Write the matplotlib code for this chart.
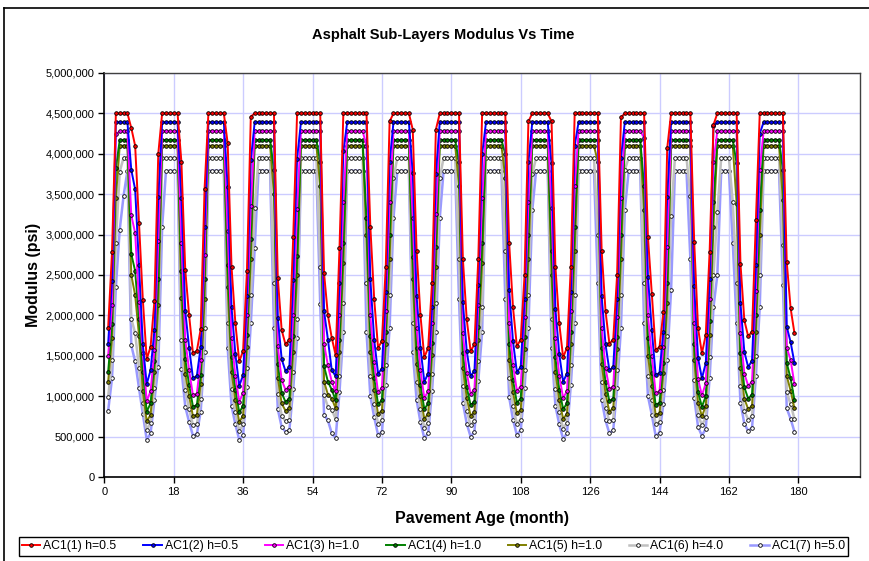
import matplotlib
matplotlib.use("Agg")
import matplotlib.pyplot as plt
from matplotlib.ticker import FuncFormatter, MultipleLocator
from matplotlib.lines import Line2D
import numpy as np

plt.rcParams['font.family'] = ['Liberation Sans', 'DejaVu Sans']

# Pavement age in months
months = list(range(1, 180))

# Modulus of each asphalt sub-layer, in thousands of psi (one row per year)
ac1_1 = [
    1850, 2780, 4500, 4500, 4500, 4500, 4320, 4100, 3140, 2190, 1460, 1610,
    2180, 4000, 4500, 4500, 4500, 4500, 4500, 3900, 2560, 2000, 1530, 1560,
    1830, 3560, 4500, 4500, 4500, 4500, 4500, 4130, 2600, 1900, 1430, 1560,
    2550, 4460, 4500, 4500, 4500, 4500, 4500, 4500, 2460, 1820, 1640, 1700,
    2970, 4500, 4500, 4500, 4500, 4500, 4500, 4500, 2520, 2000, 1720, 1510,
    2830, 4500, 4500, 4500, 4500, 4500, 4500, 4500, 3100, 2200, 1600, 1680,
    2600, 4400, 4500, 4500, 4500, 4500, 4500, 4300, 2800, 2000, 1480, 1600,
    2400, 4300, 4500, 4500, 4500, 4500, 4500, 4500, 2700, 1950, 1560, 1640,
    2700, 4500, 4500, 4500, 4500, 4500, 4500, 4500, 2900, 2100, 1620, 1700,
    2500, 4400, 4500, 4500, 4500, 4500, 4500, 4400, 2600, 1900, 1480, 1600,
    2600, 4500, 4500, 4500, 4500, 4500, 4500, 4500, 2800, 2050, 1650, 1700,
    2500, 4450, 4500, 4500, 4500, 4500, 4500, 4500, 2970, 2270, 1570, 1610,
    2040, 4070, 4500, 4500, 4500, 4500, 4500, 4500, 2910, 1840, 1530, 1760,
    2790, 4360, 4500, 4500, 4500, 4500, 4500, 4500, 2640, 1940, 1740, 1800,
    3180, 4500, 4500, 4500, 4500, 4500, 4500, 4500, 2660, 2090, 1780,
]
ac1_2 = [
    1650, 2430, 4390, 4390, 4390, 4390, 3800, 3560, 2620, 1640, 1150, 1320,
    1820, 3460, 4390, 4390, 4390, 4390, 4390, 3450, 2050, 1600, 1220, 1250,
    1610, 3100, 4390, 4390, 4390, 4390, 4390, 3590, 2100, 1520, 1130, 1260,
    2240, 3920, 4390, 4390, 4390, 4390, 4390, 4390, 1970, 1460, 1310, 1360,
    2440, 3940, 4390, 4390, 4390, 4390, 4390, 4390, 2050, 1700, 1320, 1250,
    2400, 4030, 4390, 4390, 4390, 4390, 4390, 4390, 2450, 1700, 1280, 1340,
    2290, 3900, 4390, 4390, 4390, 4390, 4390, 3760, 2240, 1600, 1180, 1280,
    2110, 3750, 4390, 4390, 4390, 4390, 4390, 4390, 2160, 1560, 1250, 1310,
    2380, 4000, 4390, 4390, 4390, 4390, 4390, 4390, 2320, 1680, 1300, 1360,
    2200, 3900, 4390, 4390, 4390, 4390, 4390, 3880, 2080, 1520, 1180, 1280,
    2290, 4100, 4390, 4390, 4390, 4390, 4390, 4390, 2240, 1640, 1320, 1360,
    2200, 3950, 4390, 4390, 4390, 4390, 4390, 4390, 2480, 1820, 1260, 1290,
    1800, 3470, 4390, 4390, 4390, 4390, 4390, 4390, 2360, 1470, 1220, 1410,
    2450, 4340, 4390, 4390, 4390, 4390, 4390, 4390, 2150, 1550, 1360, 1440,
    2620, 4250, 4390, 4390, 4390, 4390, 4390, 4390, 1860, 1670, 1410,
]
ac1_3 = [
    1500, 2130, 4240, 4280, 4280, 4280, 3240, 3020, 2170, 1530, 940, 1060,
    1570, 2920, 4280, 4280, 4280, 4280, 4280, 2900, 1700, 1320, 1010, 1030,
    1450, 2750, 4280, 4280, 4280, 4280, 4280, 3040, 1720, 1250, 930, 1040,
    2010, 3350, 4280, 4280, 4280, 4280, 4280, 4280, 1620, 1200, 1080, 1120,
    2000, 3320, 4280, 4280, 4280, 4280, 4280, 4280, 1650, 1380, 1180, 1060,
    2000, 3400, 4280, 4280, 4280, 4280, 4280, 4100, 2000, 1420, 1050, 1100,
    2050, 3400, 4280, 4280, 4280, 4280, 4280, 3200, 1850, 1320, 980, 1060,
    1900, 3250, 4280, 4280, 4280, 4280, 4280, 4280, 1780, 1290, 1030, 1080,
    2130, 3450, 4280, 4280, 4280, 4280, 4280, 4280, 1910, 1390, 1070, 1120,
    1980, 3400, 4280, 4280, 4280, 4280, 4280, 3330, 1720, 1250, 980, 1060,
    2050, 3600, 4280, 4280, 4280, 4280, 4280, 4280, 1850, 1350, 1090, 1120,
    1980, 3450, 4280, 4280, 4280, 4280, 4280, 4200, 2000, 1500, 1040, 1060,
    1610, 2850, 4280, 4280, 4280, 4280, 4280, 4280, 1900, 1210, 1010, 1160,
    2200, 3900, 4280, 4280, 4280, 4280, 4280, 4280, 1780, 1280, 1130, 1180,
    2300, 3800, 4280, 4280, 4280, 4280, 4280, 4280, 1600, 1450, 1150,
]
ac1_4 = [
    1300, 1890, 3820, 4170, 4170, 4170, 2760, 2550, 1950, 1300, 810, 910,
    1430, 2450, 4170, 4170, 4170, 4170, 4170, 2550, 1460, 1140, 870, 890,
    1260, 2450, 4170, 4170, 4170, 4170, 4170, 2620, 1480, 1080, 800, 880,
    1760, 2950, 4170, 4170, 4170, 4170, 4170, 3800, 1400, 1040, 930, 970,
    1750, 2730, 4170, 4170, 4170, 4170, 4170, 3900, 1370, 1180, 1080, 950,
    1700, 2900, 4170, 4170, 4170, 4170, 4170, 3200, 1750, 1230, 900, 950,
    1790, 3000, 4170, 4170, 4170, 4170, 4170, 2720, 1600, 1140, 840, 910,
    1660, 2850, 4170, 4170, 4170, 4170, 4170, 3900, 1540, 1110, 890, 930,
    1860, 2900, 4170, 4170, 4170, 4170, 4170, 4000, 1650, 1200, 920, 970,
    1730, 3000, 4170, 4170, 4170, 4170, 4170, 2800, 1480, 1080, 840, 910,
    1790, 3100, 4170, 4170, 4170, 4170, 4170, 4170, 1600, 1170, 940, 970,
    1730, 3000, 4170, 4170, 4170, 4170, 4170, 3600, 1720, 1290, 890, 920,
    1410, 2400, 4170, 4170, 4170, 4170, 4170, 4170, 1650, 1050, 870, 1000,
    1930, 3400, 4170, 4170, 4170, 4170, 4170, 3880, 1540, 1110, 970, 1020,
    2000, 3300, 4170, 4170, 4170, 4170, 4170, 3800, 1410, 1220, 950,
]
ac1_5 = [
    1180, 1720, 3450, 4100, 4100, 4100, 2500, 2250, 1750, 1060, 690, 770,
    1300, 2130, 4100, 4100, 4100, 4100, 4100, 2210, 1280, 1000, 750, 770,
    1150, 2200, 4100, 4100, 4100, 4100, 4100, 2350, 1300, 950, 680, 760,
    1610, 2700, 4100, 4100, 4100, 4100, 4100, 3500, 1230, 910, 820, 850,
    1550, 2500, 4100, 4100, 4100, 4100, 4100, 3600, 1180, 1020, 970, 850,
    1550, 2650, 4100, 4100, 4100, 4100, 4100, 3000, 1550, 1080, 780, 820,
    1640, 2700, 4100, 4100, 4100, 4100, 4100, 2450, 1400, 1000, 720, 780,
    1510, 2600, 4100, 4100, 4100, 4100, 4100, 3600, 1350, 980, 760, 800,
    1700, 2650, 4100, 4100, 4100, 4100, 4100, 3700, 1450, 1050, 790, 830,
    1580, 2700, 4100, 4100, 4100, 4100, 4100, 2500, 1300, 950, 720, 780,
    1640, 2800, 4100, 4100, 4100, 4100, 4100, 3900, 1400, 1030, 810, 850,
    1580, 2700, 4100, 4100, 4100, 4100, 4100, 3300, 1500, 1130, 770, 790,
    1290, 2150, 4100, 4100, 4100, 4100, 4100, 4100, 1450, 920, 750, 880,
    1760, 3100, 4100, 4100, 4100, 4100, 4100, 3380, 1350, 970, 840, 880,
    1800, 3000, 4100, 4100, 4100, 4100, 4100, 3430, 1250, 1070, 850,
]
ac1_6 = [
    990, 1450, 2900, 3780, 3950, 3950, 1960, 1780, 1350, 910, 580, 670,
    1100, 1720, 3950, 3950, 3950, 3950, 3950, 1700, 1080, 840, 640, 650,
    970, 1850, 3950, 3950, 3950, 3950, 3950, 1900, 1090, 800, 570, 650,
    1350, 2250, 3330, 3950, 3950, 3950, 3950, 2400, 1030, 760, 690, 710,
    1300, 1960, 3950, 3950, 3950, 3950, 3950, 2600, 1010, 870, 830, 720,
    1250, 2150, 3950, 3950, 3950, 3950, 3950, 2400, 1250, 900, 660, 700,
    1380, 2250, 3700, 3950, 3950, 3950, 3950, 1900, 1180, 840, 610, 670,
    1270, 2150, 3700, 3950, 3950, 3950, 3950, 2700, 1130, 820, 640, 690,
    1430, 2100, 3950, 3950, 3950, 3950, 3950, 2800, 1220, 880, 660, 710,
    1330, 2250, 3750, 3950, 3950, 3950, 3950, 1950, 1090, 800, 600, 670,
    1380, 2250, 3950, 3950, 3950, 3950, 3950, 3000, 1180, 860, 690, 710,
    1330, 2250, 3800, 3950, 3950, 3950, 3950, 2400, 1250, 950, 650, 680,
    1080, 1750, 3230, 3950, 3950, 3950, 3950, 3480, 1200, 770, 640, 740,
    1480, 2500, 3280, 3950, 3950, 3950, 3400, 2400, 1130, 820, 710, 750,
    1500, 2500, 3950, 3950, 3950, 3950, 3950, 2870, 1050, 900, 720,
]
ac1_7 = [
    820, 1220, 2350, 3060, 3480, 3790, 1630, 1430, 1100, 780, 460, 540,
    950, 1360, 3090, 3790, 3790, 3790, 3790, 1340, 870, 680, 510, 530,
    810, 1550, 3790, 3790, 3790, 3790, 3790, 1600, 880, 650, 460, 520,
    1120, 1900, 2830, 3790, 3790, 3790, 3790, 1850, 840, 620, 560, 580,
    1090, 1720, 3790, 3790, 3790, 3790, 3790, 2140, 770, 700, 540, 480,
    1050, 1800, 3790, 3790, 3790, 3790, 3790, 1800, 1000, 740, 520, 560,
    1140, 1850, 3200, 3790, 3790, 3790, 3790, 1550, 950, 680, 480, 540,
    1060, 1800, 3200, 3790, 3790, 3790, 3790, 2200, 920, 660, 500, 560,
    1190, 1800, 3790, 3790, 3790, 3790, 3790, 2200, 990, 710, 520, 580,
    1100, 1850, 3300, 3790, 3790, 3790, 3790, 1600, 880, 650, 470, 540,
    1140, 1900, 3790, 3790, 3790, 3790, 3790, 2400, 950, 700, 540, 580,
    1100, 1850, 3300, 3790, 3790, 3790, 3790, 1900, 1000, 770, 510, 550,
    900, 1450, 2310, 3790, 3790, 3790, 3790, 2700, 980, 620, 510, 600,
    1230, 2100, 2500, 3790, 3790, 3790, 2900, 1900, 920, 660, 570, 610,
    1250, 2100, 3790, 3790, 3790, 3790, 3790, 2380, 850, 720, 560,
]

series_labels = ["AC1(1) h=0.5", "AC1(2) h=0.5", "AC1(3) h=1.0", "AC1(4) h=1.0",
                 "AC1(5) h=1.0", "AC1(6) h=4.0", "AC1(7) h=5.0"]
series_values = [ac1_1, ac1_2, ac1_3, ac1_4, ac1_5, ac1_6, ac1_7]
line_colors = ["#FF0000", "#0000FF", "#FF00FF", "#008000", "#808000", "#C0C0C0", "#9999FF"]
marker_faces = ["#FF0000", "#0000FF", "#FF00FF", "#008000", "#808000", "#FFFFFF", "#FFFFFF"]
line_widths = [1.4, 1.4, 1.4, 1.4, 1.4, 1.8, 1.8]

x_ticks = list(range(0, 181, 18))

W, H = 869, 561
fig = plt.figure(figsize=(W / 100, H / 100), dpi=100)
fig.patch.set_facecolor("white")

# plot area in pixel coordinates
left, right, top, bottom = 104.3, 860, 73, 477
ax = fig.add_axes([left / W, 1 - bottom / H, (right - left) / W, (bottom - top) / H])

n = len(series_values)
for i, (vals, lab, c, fc, lw) in enumerate(zip(series_values, series_labels, line_colors,
                                                marker_faces, line_widths)):
    ax.plot(months, np.array(vals) * 1000, color=c, lw=lw, label=lab,
            marker="o", markersize=2.6, markerfacecolor=fc,
            markeredgecolor="#000000", markeredgewidth=0.6, zorder=3 + (n - i) * 0.1)

ax.set_xlim(0, 196)
ax.set_ylim(0, 5_000_000)
ax.set_xticks(x_ticks)
ax.yaxis.set_major_locator(MultipleLocator(500_000))
ax.yaxis.set_major_formatter(FuncFormatter(lambda v, p: f"{int(round(v)):,}"))
ax.grid(True, color="#CCCCFF", lw=1.0)
ax.set_axisbelow(True)
ax.tick_params(axis="both", direction="out", length=4, width=1, labelsize=8, colors="black", pad=3)

for s in ("left", "bottom"):
    ax.spines[s].set_color("black")
    ax.spines[s].set_linewidth(1.2)
for s in ("top", "right"):
    ax.spines[s].set_color("#404040")
    ax.spines[s].set_linewidth(1.0)

ax.set_xlabel("Pavement Age (month)", fontsize=11.5, fontweight="bold", labelpad=10)
ax.set_ylabel("Modulus (psi)", fontsize=11.5, fontweight="bold", labelpad=3)

fig.text(443 / W, 1 - 35 / H, "Asphalt Sub-Layers Modulus Vs Time",
         ha="center", va="center", fontsize=10.5, fontweight="bold")

leg = ax.legend(loc="center", bbox_to_anchor=(433.5 / W, 1 - 546.5 / H),
                bbox_transform=fig.transFigure, ncol=7, fontsize=8.8,
                frameon=True, fancybox=False, edgecolor="black", framealpha=1,
                borderpad=0.25, handlelength=1.5, handletextpad=0.25,
                columnspacing=2.2, borderaxespad=0)
leg.get_frame().set_linewidth(1.0)

# chart border
fig.add_artist(Line2D([4 / W, 4 / W], [0, 1 - 8 / H], color="black", lw=1.2,
                      transform=fig.transFigure))
fig.add_artist(Line2D([4 / W, 1], [1 - 8 / H, 1 - 8 / H], color="black", lw=1.2,
                      transform=fig.transFigure))

fig.savefig("out.png", dpi=100)
